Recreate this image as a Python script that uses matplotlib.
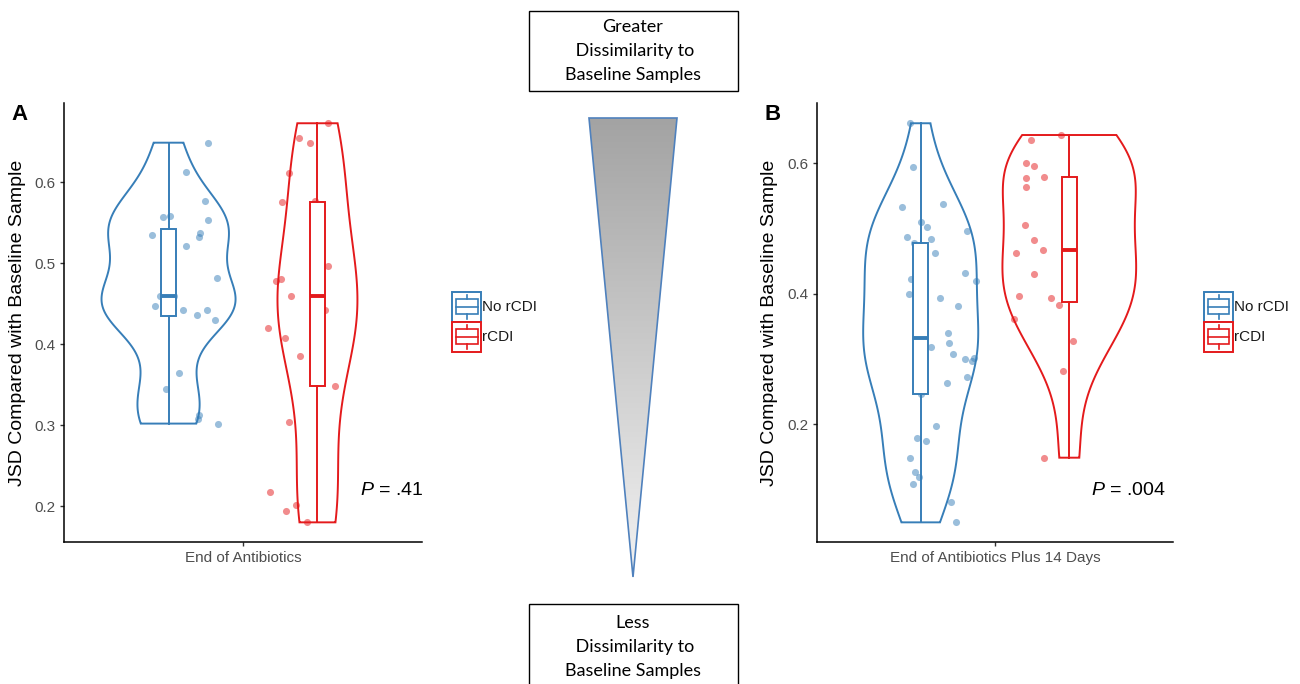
import numpy as np
import matplotlib
matplotlib.use("Agg")
import matplotlib.pyplot as plt
from matplotlib.patches import Polygon, Rectangle
from matplotlib.lines import Line2D
from matplotlib.colors import LinearSegmentedColormap

plt.rcParams['font.family'] = ['Liberation Sans', 'DejaVu Sans']
plt.rcParams['mathtext.fontset'] = 'custom'
plt.rcParams['mathtext.it'] = 'Liberation Sans:italic'
plt.rcParams['mathtext.rm'] = 'Liberation Sans'

# ---------------- data ----------------
groups = ["No rCDI", "rCDI"]
group_colors = ["#377EB8", "#E41A1C"]

a_label = "End of Antibiotics"
a_no_vals = [0.649, 0.613, 0.577, 0.557, 0.559, 0.554, 0.538, 0.532, 0.535, 0.521,
             0.482, 0.459, 0.459, 0.447, 0.442, 0.442, 0.436, 0.430, 0.365, 0.345,
             0.312, 0.308, 0.302, 0.455]
a_no_jit = [0.131, 0.058, 0.123, -0.018, 0.006, 0.131, 0.104, 0.103, -0.057, 0.057,
            0.163, -0.029, 0.017, -0.044, 0.048, 0.128, 0.095, 0.156, 0.034, -0.007,
            0.103, 0.100, 0.165, 0.0]
a_r_vals = [0.673, 0.655, 0.648, 0.612, 0.576, 0.577, 0.497, 0.478, 0.480, 0.459,
            0.442, 0.420, 0.408, 0.385, 0.348, 0.304, 0.217, 0.194, 0.201, 0.180, 0.459]
a_r_jit = [0.037, -0.062, -0.024, -0.096, -0.120, -0.009, 0.037, -0.139, -0.122, -0.090,
           0.024, -0.165, -0.110, -0.059, 0.058, -0.096, -0.161, -0.104, -0.071, -0.036, 0.0]
a_p = "$\\mathit{P}$ = .41"

b_label = "End of Antibiotics Plus 14 Days"
b_no_vals = [0.661, 0.594, 0.533, 0.537, 0.510, 0.502, 0.496, 0.487, 0.484, 0.477,
             0.462, 0.431, 0.423, 0.419, 0.399, 0.393, 0.381, 0.340, 0.325, 0.319,
             0.308, 0.300, 0.301, 0.297, 0.272, 0.264, 0.198, 0.179, 0.175, 0.148,
             0.127, 0.120, 0.109, 0.081, 0.050, 0.332, 0.247]
b_no_jit = [-0.035, -0.026, -0.062, 0.076, 0.001, 0.021, 0.157, -0.047, 0.036, -0.024,
            0.048, 0.149, -0.034, 0.185, -0.041, 0.064, 0.126, 0.092, 0.095, 0.033,
            0.110, 0.149, 0.179, 0.173, 0.156, 0.090, 0.053, -0.013, 0.018, -0.036,
            -0.020, -0.007, -0.027, 0.101, 0.118, 0.0, 0.0]
b_r_vals = [0.643, 0.635, 0.600, 0.596, 0.577, 0.579, 0.564, 0.505, 0.483, 0.463,
            0.467, 0.430, 0.396, 0.393, 0.382, 0.361, 0.327, 0.281, 0.149]
b_r_jit = [-0.028, -0.129, -0.146, -0.119, -0.147, -0.084, -0.146, -0.148, -0.120, -0.178,
           -0.087, -0.119, -0.170, -0.061, -0.035, -0.185, 0.011, -0.021, -0.086]
b_p = "$\\mathit{P}$ = .004"

top_text = ["Greater", " Dissimilarity to", "Baseline Samples"]
bottom_text = ["Less", " Dissimilarity to", "Baseline Samples"]

# ---------------- figure ----------------
W, H = 1300, 684
fig = plt.figure(figsize=(W / 100, H / 100), dpi=100)


def px_axes(left, right, top, bottom):
    return fig.add_axes([left / W, 1 - bottom / H, (right - left) / W, (bottom - top) / H])


def kde(vals, n=512):
    v = np.asarray(vals, float)
    sd = v.std(ddof=1)
    q75, q25 = np.percentile(v, [75, 25])
    bw = 0.9 * min(sd, (q75 - q25) / 1.34) * len(v) ** -0.2
    ys = np.linspace(v.min(), v.max(), n)
    d = np.exp(-0.5 * ((ys[:, None] - v[None, :]) / bw) ** 2).sum(1) / (len(v) * bw * np.sqrt(2 * np.pi))
    return ys, d


def panel(ax, no_vals, no_jit, r_vals, r_jit, xlabel, ptext, pxy, yticks):
    pos = [0.75, 1.25]
    data = [(no_vals, no_jit), (r_vals, r_jit)]
    dens = [kde(v) for v, _ in data]
    dmax = max(d.max() for _, d in dens)
    for (ys, d), x, c in zip(dens, pos, group_colors):
        w = d / dmax * 0.225
        xs = np.concatenate([x - w, (x + w)[::-1]])
        yy = np.concatenate([ys, ys[::-1]])
        ax.fill(xs, yy, facecolor='white', edgecolor=c, lw=1.4, zorder=1)
    for (v, j), x, c in zip(data, pos, group_colors):
        ax.scatter(x + np.asarray(j), v, s=26, color=c, alpha=0.5, linewidths=0, zorder=2)
    for (v, j), x, c in zip(data, pos, group_colors):
        ax.boxplot([v], positions=[x], widths=0.05, whis=(0, 100), patch_artist=True,
                   showfliers=False, showcaps=False, manage_ticks=False,
                   boxprops=dict(facecolor='white', edgecolor=c, lw=1.4),
                   whiskerprops=dict(color=c, lw=1.4),
                   medianprops=dict(color=c, lw=2.8), zorder=3)
    allv = np.concatenate([no_vals, r_vals])
    lo, hi = allv.min(), allv.max()
    pad = 0.05 * (hi - lo)
    ax.set_ylim(lo - pad, hi + pad)
    ax.set_xlim(0.4, 1.6)
    ax.set_xticks([1])
    ax.set_xticklabels([xlabel])
    ax.set_yticks(yticks)
    ax.set_yticklabels([f"{t:.1f}" for t in yticks])
    for s in ['top', 'right']:
        ax.spines[s].set_visible(False)
    for s in ['left', 'bottom']:
        ax.spines[s].set_linewidth(1.1)
        ax.spines[s].set_color('black')
    ax.tick_params(labelsize=11, labelcolor='#4D4D4D', length=3, width=1.0, color='#333333', pad=3)
    ax.set_ylabel("JSD Compared with Baseline Sample", fontsize=14, color='black')
    ax.yaxis.set_label_coords(-0.108, 0.5)
    ax.text(pxy[0], pxy[1], ptext, fontsize=14, ha='right', va='center', clip_on=False, zorder=5)


axA = px_axes(64.3, 421.7, 103.3, 542.3)
panel(axA, a_no_vals, a_no_jit, a_r_vals, a_r_jit, a_label, a_p, (1.606, 0.219), [0.2, 0.3, 0.4, 0.5, 0.6])
axB = px_axes(816.7, 1173.3, 103.3, 542.3)
panel(axB, b_no_vals, b_no_jit, b_r_vals, b_r_jit, b_label, b_p, (1.576, 0.099), [0.2, 0.4, 0.6])

fig.text(11 / W, 1 - 120 / H, "A", fontsize=16, fontweight='bold', va='baseline', ha='left')
fig.text(764 / W, 1 - 120 / H, "B", fontsize=16, fontweight='bold', va='baseline', ha='left')

# ---------------- overlay (legends, arrow, boxes) ----------------
ov = fig.add_axes([0, 0, 1, 1], zorder=10)
ov.set_xlim(0, W)
ov.set_ylim(H, 0)
ov.axis('off')


def legend_at(x0, y0):
    kw, kh = 29, 30
    for i, (g, c) in enumerate(zip(groups, group_colors)):
        yt = y0 + i * kh
        ov.add_patch(Rectangle((x0, yt), kw, kh, facecolor='white', edgecolor=c, lw=1.4))
        ov.add_patch(Rectangle((x0 + 0.125 * kw, yt + 0.25 * kh), 0.75 * kw, 0.5 * kh,
                               facecolor='white', edgecolor=c, lw=1.2))
        ov.add_line(Line2D([x0 + 0.125 * kw, x0 + 0.875 * kw], [yt + 0.5 * kh] * 2, color=c, lw=1.2))
        ov.add_line(Line2D([x0 + 0.5 * kw] * 2, [yt + 0.1 * kh, yt + 0.25 * kh], color=c, lw=1.2))
        ov.add_line(Line2D([x0 + 0.5 * kw] * 2, [yt + 0.75 * kh, yt + 0.9 * kh], color=c, lw=1.2))
        ov.text(x0 + kw + 1, yt + kh / 2, g, fontsize=11, ha='left', va='center', color='#1A1A1A')


legend_at(452.3, 291.7)
legend_at(1204, 291.7)

# gradient triangle
tri = Polygon([[589, 118], [677, 118], [633, 577]], closed=True, facecolor='none',
              edgecolor='#4F81BD', lw=1.2, zorder=3)
cmap = LinearSegmentedColormap.from_list('g', ['#A3A3A3', '#F2F2F2'])
grad = np.linspace(0, 1, 256).reshape(-1, 1)
im = ov.imshow(grad, cmap=cmap, extent=(589, 677, 577, 118), aspect='auto', origin='upper', zorder=2)
clip = Polygon([[589, 118], [677, 118], [633, 577]], closed=True, transform=ov.transData)
im.set_clip_path(clip)
ov.add_patch(tri)
ov.set_xlim(0, W)
ov.set_ylim(H, 0)

box_font = ['Lato', 'DejaVu Sans']
ov.add_patch(Rectangle((529, 11), 209, 80, facecolor='white', edgecolor='black', lw=1.0))
for k, t in enumerate(top_text):
    ov.text(633, 27 + 24 * k, t, fontsize=13, ha='center', va='center', family=box_font)
ov.add_patch(Rectangle((529, 604), 209, 100, facecolor='white', edgecolor='black', lw=1.0, clip_on=False))
for k, t in enumerate(bottom_text):
    ov.text(633, 623 + 24 * k, t, fontsize=13, ha='center', va='center', family=box_font)

fig.savefig("out.png", dpi=100)
